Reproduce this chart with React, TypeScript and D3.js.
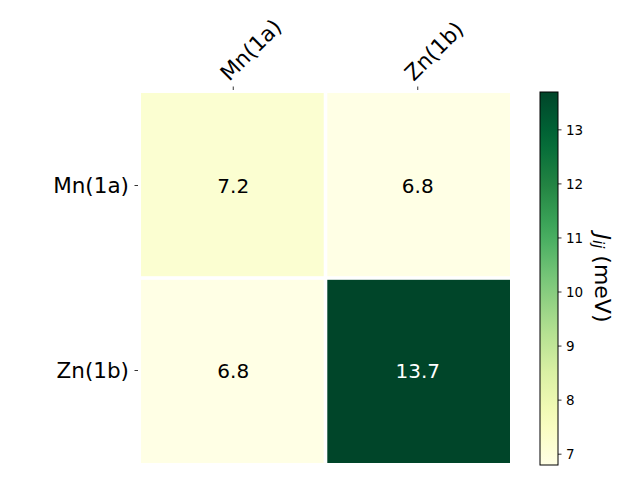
import React from "react";
import * as d3 from "d3";

const rowLabels = ["Mn(1a)", "Zn(1b)"];
const colLabels = ["Mn(1a)", "Zn(1b)"];
const values = [
  [7.2, 6.8],
  [6.8, 13.7],
];
const vmin = 6.8;
const vmax = 13.7;
const cbTicks = [7, 8, 9, 10, 11, 12, 13];

const W = 640;
const H = 480;
const font = "DejaVu Sans, sans-serif";

export default function App() {
  const left = 141, right = 510, top = 93, bottom = 463;
  const x = d3.scaleBand<string>().domain(colLabels).range([left, right]).padding(0);
  const y = d3.scaleBand<string>().domain(rowLabels).range([top, bottom]).padding(0);
  const interp = d3.piecewise(d3.interpolateRgb, d3.schemeYlGn[9] as string[]);
  const color = (v: number) => interp((v - vmin) / (vmax - vmin));
  const cbX = 540, cbW = 18, cbTop = 92, cbBottom = 465;
  const cy = d3.scaleLinear().domain([vmin, vmax]).range([cbBottom, cbTop]);
  const stops = d3.range(0, 1.0001, 0.05);
  const gap = 1.8;

  return (
    <svg width={W} height={H} style={{ position: "absolute", left: 0, top: 0 }} fontFamily={font}>
      <rect width={W} height={H} fill="white" />
      <defs>
        <linearGradient id="cb" x1="0" y1="1" x2="0" y2="0">
          {stops.map((s) => (
            <stop key={s} offset={s} stopColor={interp(s)} />
          ))}
        </linearGradient>
      </defs>
      {values.map((row, i) =>
        row.map((v, j) => {
          const x0 = x(colLabels[j])!;
          const y0 = y(rowLabels[i])!;
          return (
            <g key={`${i}-${j}`}>
              <rect
                x={x0 + (j === 0 ? 0 : gap)}
                y={y0 + (i === 0 ? 0 : gap)}
                width={x.bandwidth() - gap}
                height={y.bandwidth() - gap}
                fill={color(v)}
              />
              <text
                x={x0 + x.bandwidth() / 2}
                y={y0 + y.bandwidth() / 2}
                textAnchor="middle"
                dominantBaseline="central"
                fontSize={20}
                fill={v > 11 ? "white" : "black"}
              >
                {v.toFixed(1)}
              </text>
            </g>
          );
        })
      )}
      {rowLabels.map((r) => {
        const yy = y(r)! + y.bandwidth() / 2;
        return (
          <g key={r}>
            <line x1={left - 6.5} x2={left - 3} y1={yy} y2={yy} stroke="black" strokeWidth={0.8} />
            <text x={left - 12} y={yy} textAnchor="end" dominantBaseline="central" fontSize={21.5}>
              {r}
            </text>
          </g>
        );
      })}
      {colLabels.map((c) => {
        const xx = x(c)! + x.bandwidth() / 2;
        return (
          <g key={c}>
            <line x1={xx} x2={xx} y1={top - 6.5} y2={top - 3} stroke="black" strokeWidth={0.8} />
            <text
              transform={`translate(${xx - 4},${top - 11}) rotate(-45)`}
              textAnchor="start"
              fontSize={21.5}
            >
              {c}
            </text>
          </g>
        );
      })}
      <rect x={cbX} y={cbTop} width={cbW} height={cbBottom - cbTop} fill="url(#cb)" stroke="black" strokeWidth={1} />
      {cbTicks.map((t) => (
        <g key={t}>
          <line x1={cbX + cbW} x2={cbX + cbW + 3.5} y1={cy(t)} y2={cy(t)} stroke="black" strokeWidth={0.8} />
          <text x={cbX + cbW + 8} y={cy(t)} dominantBaseline="central" fontSize={13.5}>
            {t}
          </text>
        </g>
      ))}
      <text transform={`translate(603,278) rotate(90)`} textAnchor="middle" dominantBaseline="central" fontSize={22}>
        <tspan fontStyle="italic">J</tspan>
        <tspan fontStyle="italic" fontSize={15} dy={5}>ij</tspan>
        <tspan dy={-5}> (meV)</tspan>
      </text>
    </svg>
  );
}
